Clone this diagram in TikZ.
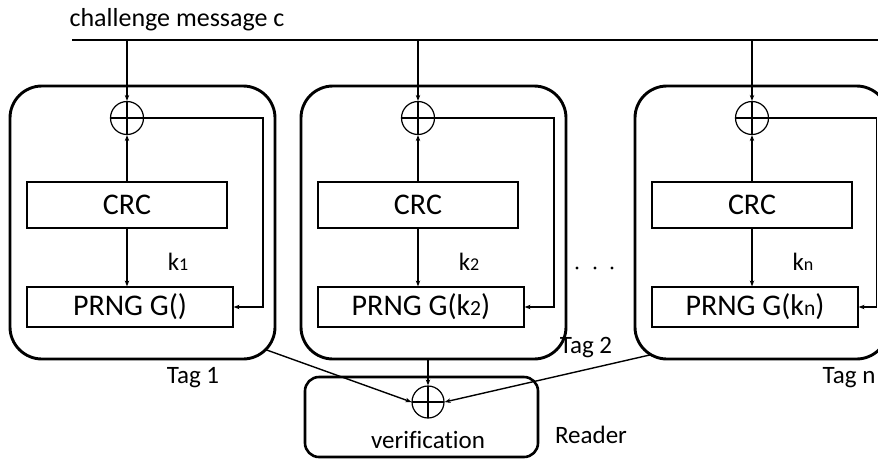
\documentclass[tikz,border=0pt]{standalone}
\usepackage{fontspec}
\setmainfont{Carlito}[Ligatures=NoCommon]
\usetikzlibrary{arrows.meta}

\newcommand{\ksub}[1]{\scalebox{0.72}{#1}}

\begin{document}
\begin{tikzpicture}[x=1pt,y=-1pt,>={Stealth[length=6pt,width=4.5pt]},line width=1.4pt]
	
	\tikzset{
		tagbox/.style={draw,line width=2.9pt,rounded corners=32pt},
		readerbox/.style={draw,line width=2.6pt,rounded corners=14pt},
		blk/.style={draw,line width=1.2pt,inner sep=0pt,font=\fontsize{30}{36}\selectfont},
		xor/.style={circle,draw,line width=1.2pt,minimum size=33pt,inner sep=0pt,
			path picture={\draw[line width=1.2pt]
				(path picture bounding box.north) -- (path picture bounding box.south)
				(path picture bounding box.west) -- (path picture bounding box.east);}},
		lbl/.style={font=\fontsize{25}{30}\selectfont},
	}
	
	\useasboundingbox (0,0) rectangle (878,459);
	\clip (0,0) rectangle (878,459);
	
	% Macro: one tag with XOR, CRC and PRNG
	% Arguments: XOR x, name prefix, PRNG text, key label, feedback x
	\newcommand{\TagUnit}[5]{%
		% rounded tag outline
		\draw[tagbox] (#1-117,86) rectangle (#5+12,359);
		\coordinate (#2bot) at (#1,359);
		% blocks
		\node[xor] (#2x) at (#1,118) {};
		\node[blk,minimum width=200pt,minimum height=46pt] (#2c) at (#1,205) {CRC};
		\node[blk,minimum width=206pt,minimum height=40pt] (#2p) at (#1+3,307) {#3};
		\node[lbl] (#2k) at (#1+51,262) {#4};
		% challenge in, CRC up to XOR, CRC down to PRNG
		\draw[->] (#2x.north |- cin) -- (#2x.north);
		\draw[->] (#2c.north) -- (#2x.south);
		\draw[->] (#2c.south) -- (#2c.south |- #2p.north);
		% feedback XOR -> PRNG
		\coordinate (#2f) at (#5,118);
		\draw[->] (#2x.east) -- (#2f) |- (#2p.east);
	}
	
	%========================================
	% challenge message bus
	%========================================
	\node[font=\fontsize{26}{31}\selectfont] (chal) at (177,20) {challenge message c};
	\coordinate (cin) at (72,40);
	\coordinate (cend) at (880,40);
	\draw[line width=1.7pt] (cin) -- (cend);
	
	%========================================
	% tags
	%========================================
	\TagUnit{127}{T1}{PRNG G()}{k\ksub{1}}{263}
	\TagUnit{418}{T2}{PRNG G(k\ksub{2})}{k\ksub{2}}{554}
	\TagUnit{752}{Tn}{PRNG G(k\ksub{n})}{k\ksub{n}}{876.5}
	
	\node[lbl] (t1) at (193,378) {Tag 1};
	\node[lbl] (t2) at (586,348) {Tag 2};
	\node[lbl,anchor=west,inner sep=0pt] (tn) at (822,378) {Tag n};
	
	% dots between tag 2 and tag n
	\foreach \dx in {577,595,612}
		\fill (\dx,268) circle (1.6pt);
	
	%========================================
	% reader
	%========================================
	\node[readerbox,minimum width=233pt,minimum height=80pt] (rbox) at (421.5,417) {};
	\node[xor,minimum size=32pt] (rx) at (428,402) {};
	\node[lbl] (rver) at (428,440) {verification};
	\node[lbl] (rlbl) at (591,435) {Reader};
	
	% tag outputs into the reader XOR
	\coordinate (T1out) at (265.6,349.6);
	\coordinate (Tnout) at (651,354.7);
	\draw[->] (rx.north |- T2bot) -- (rx.north);
	\draw[->] (T1out) -- (rx.west);
	\draw[->] (Tnout) -- (rx.east);
	
\end{tikzpicture}
\end{document}
